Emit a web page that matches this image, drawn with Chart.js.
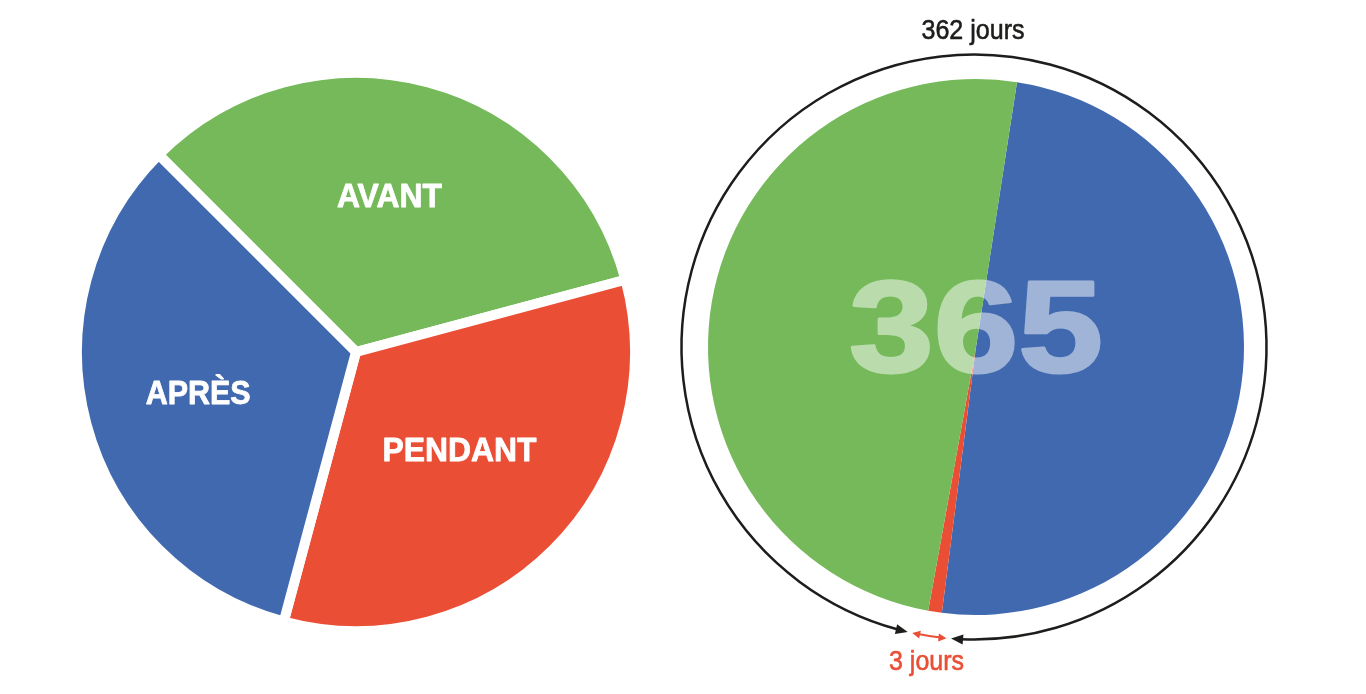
<!DOCTYPE html>
<html>
<head>
<meta charset="utf-8">
<script src="https://cdn.jsdelivr.net/npm/chart.js@4"></script>
<style>
  html, body { margin: 0; padding: 0; background: #fff; }
  body { width: 1366px; height: 694px; position: relative; overflow: hidden; }
  #boxLeft { position: absolute; left: 56px; top: 52px; width: 600px; height: 600px; }
  #boxRight { position: absolute; left: 626px; top: 0; width: 700px; height: 694px; }
</style>
</head>
<body>
<div id="boxLeft"><canvas id="phasesChart"></canvas></div>
<div id="boxRight"><canvas id="yearChart"></canvas></div>
<script>
// left pie : three equal phases
const phases = ['AVANT', 'PENDANT', 'APRÈS'];
const phaseShares = [1, 1, 1];
const phaseColors = ['#75B95A', '#EA4F36', '#4169AF'];

// right pie : the year in days
const yearParts = ['APRÈS', 'PENDANT', 'AVANT'];
const yearDays = [181, 3, 181];
const yearColors = ['#4169AF', '#EA4F36', '#75B95A'];
const yearTotal = '365';
const outsideLabel = '362 jours';
const insideLabel = '3 jours';

const FONT = '"Liberation Sans", Arial, sans-serif';

// draws text centered on cx, squeezed/stretched to a given width
function drawFitted(ctx, text, cx, baseY, font, width, color, thick) {
  ctx.save();
  ctx.font = font;
  ctx.fillStyle = color;
  ctx.strokeStyle = color;
  ctx.lineJoin = 'round';
  ctx.textAlign = 'center';
  ctx.textBaseline = 'alphabetic';
  const w = ctx.measureText(text).width;
  ctx.translate(cx, baseY);
  ctx.scale(width / w, 1);
  ctx.fillText(text, 0, 0);
  if (thick) {
    ctx.lineWidth = thick;
    ctx.strokeText(text, 0, 0);
  }
  ctx.restore();
}

function arrowHead(ctx, cx, cy, R, ang, dir, len, half) {
  const tx = cx + R * Math.cos(ang), ty = cy + R * Math.sin(ang);
  const ux = -Math.sin(ang) * dir, uy = Math.cos(ang) * dir;
  const nx = Math.cos(ang), ny = Math.sin(ang);
  const bx = tx - ux * len, by = ty - uy * len;
  ctx.beginPath();
  ctx.moveTo(tx, ty);
  ctx.lineTo(bx + nx * half, by + ny * half);
  ctx.lineTo(bx - nx * half, by - ny * half);
  ctx.closePath();
  ctx.fill();
}

const phaseLabels = {
  id: 'phaseLabels',
  afterDatasetsDraw(chart) {
    const ctx = chart.ctx;
    const widths = [105, 154, 105];
    const nudge = [[-7, -6], [-7, -13], [-7, 0]];
    chart.getDatasetMeta(0).data.forEach((arc, i) => {
      const p = arc.getProps(['x', 'y', 'startAngle', 'endAngle'], true);
      const mid = (p.startAngle + p.endAngle) / 2;
      const r = 274 * 0.57;
      const x = p.x + Math.cos(mid) * r + nudge[i][0];
      const y = p.y + Math.sin(mid) * r + nudge[i][1];
      drawFitted(ctx, phases[i], x, y + 12, 'bold 34px ' + FONT, widths[i], '#fff', 0.8);
    });
  }
};

const yearDecor = {
  id: 'yearDecor',
  afterDatasetsDraw(chart) {
    const ctx = chart.ctx;
    const arcs = chart.getDatasetMeta(0).data;
    const cx = arcs[0].x, cy = arcs[0].y;

    // big transparent number, drawn opaque on a layer then laid at half alpha
    const layer = document.createElement('canvas');
    layer.width = chart.canvas.width;
    layer.height = chart.canvas.height;
    const lc = layer.getContext('2d');
    lc.scale(chart.currentDevicePixelRatio, chart.currentDevicePixelRatio);
    drawFitted(lc, yearTotal, cx, cy + 25, 'bold 130px ' + FONT, 254, '#ffffff', 3);
    ctx.save();
    ctx.globalAlpha = 0.5;
    ctx.setTransform(1, 0, 0, 1, 0, 0);
    ctx.drawImage(layer, 0, 0);
    ctx.restore();

    // gap of the ring centred on the small slice
    const red = arcs[1];
    const mid = (red.startAngle + red.endAngle) / 2;
    const deg = Math.PI / 180;
    const R = 292.5, rx = cx - 2;

    ctx.save();
    ctx.strokeStyle = '#1d1d1b';
    ctx.fillStyle = '#1d1d1b';
    ctx.lineWidth = 2.5;
    const b1 = mid + 4.3 * deg, b2 = mid - 4.3 * deg + 2 * Math.PI;
    const blen = 12;
    ctx.beginPath();
    ctx.arc(rx, cy, R, b1 + (blen - 2) / R, b2 - (blen - 2) / R, false);
    ctx.stroke();
    arrowHead(ctx, rx, cy, R, b1, -1, blen, 5);
    arrowHead(ctx, rx, cy, R, b2, 1, blen, 5);

    ctx.strokeStyle = '#EA4F36';
    ctx.fillStyle = '#EA4F36';
    ctx.lineWidth = 2;
    const r1 = mid - 3.4 * deg, r2 = mid + 3.4 * deg;
    const rlen = 8;
    ctx.beginPath();
    ctx.arc(rx, cy, R, r1 + (rlen - 2) / R, r2 - (rlen - 2) / R, false);
    ctx.stroke();
    arrowHead(ctx, rx, cy, R, r1, -1, rlen, 4);
    arrowHead(ctx, rx, cy, R, r2, 1, rlen, 4);
    ctx.restore();

    drawFitted(ctx, outsideLabel, cx - 3, 39, '28px ' + FONT, 103, '#1d1d1b', 0.6);
    drawFitted(ctx, insideLabel, cx - 49.5, 670, '28px ' + FONT, 75, '#EA4F36', 0.6);
  }
};

const common = {
  responsive: true,
  maintainAspectRatio: false,
  animation: false,
  events: [],
  layout: { padding: 0 },
  plugins: { legend: { display: false }, tooltip: { enabled: false } }
};

new Chart(document.getElementById('phasesChart'), {
  type: 'pie',
  data: {
    labels: phases,
    datasets: [{
      data: phaseShares,
      backgroundColor: phaseColors,
      borderColor: '#ffffff',
      borderWidth: 10,
      borderJoinStyle: 'miter',
      radius: 279
    }]
  },
  options: Object.assign({}, common, { rotation: -45 }),
  plugins: [phaseLabels]
});

new Chart(document.getElementById('yearChart'), {
  type: 'pie',
  data: {
    labels: yearParts,
    datasets: [{
      data: yearDays,
      backgroundColor: yearColors,
      borderWidth: 0,
      radius: 268
    }]
  },
  options: Object.assign({}, common, { rotation: 8.8 }),
  plugins: [yearDecor]
});
</script>
</body>
</html>
